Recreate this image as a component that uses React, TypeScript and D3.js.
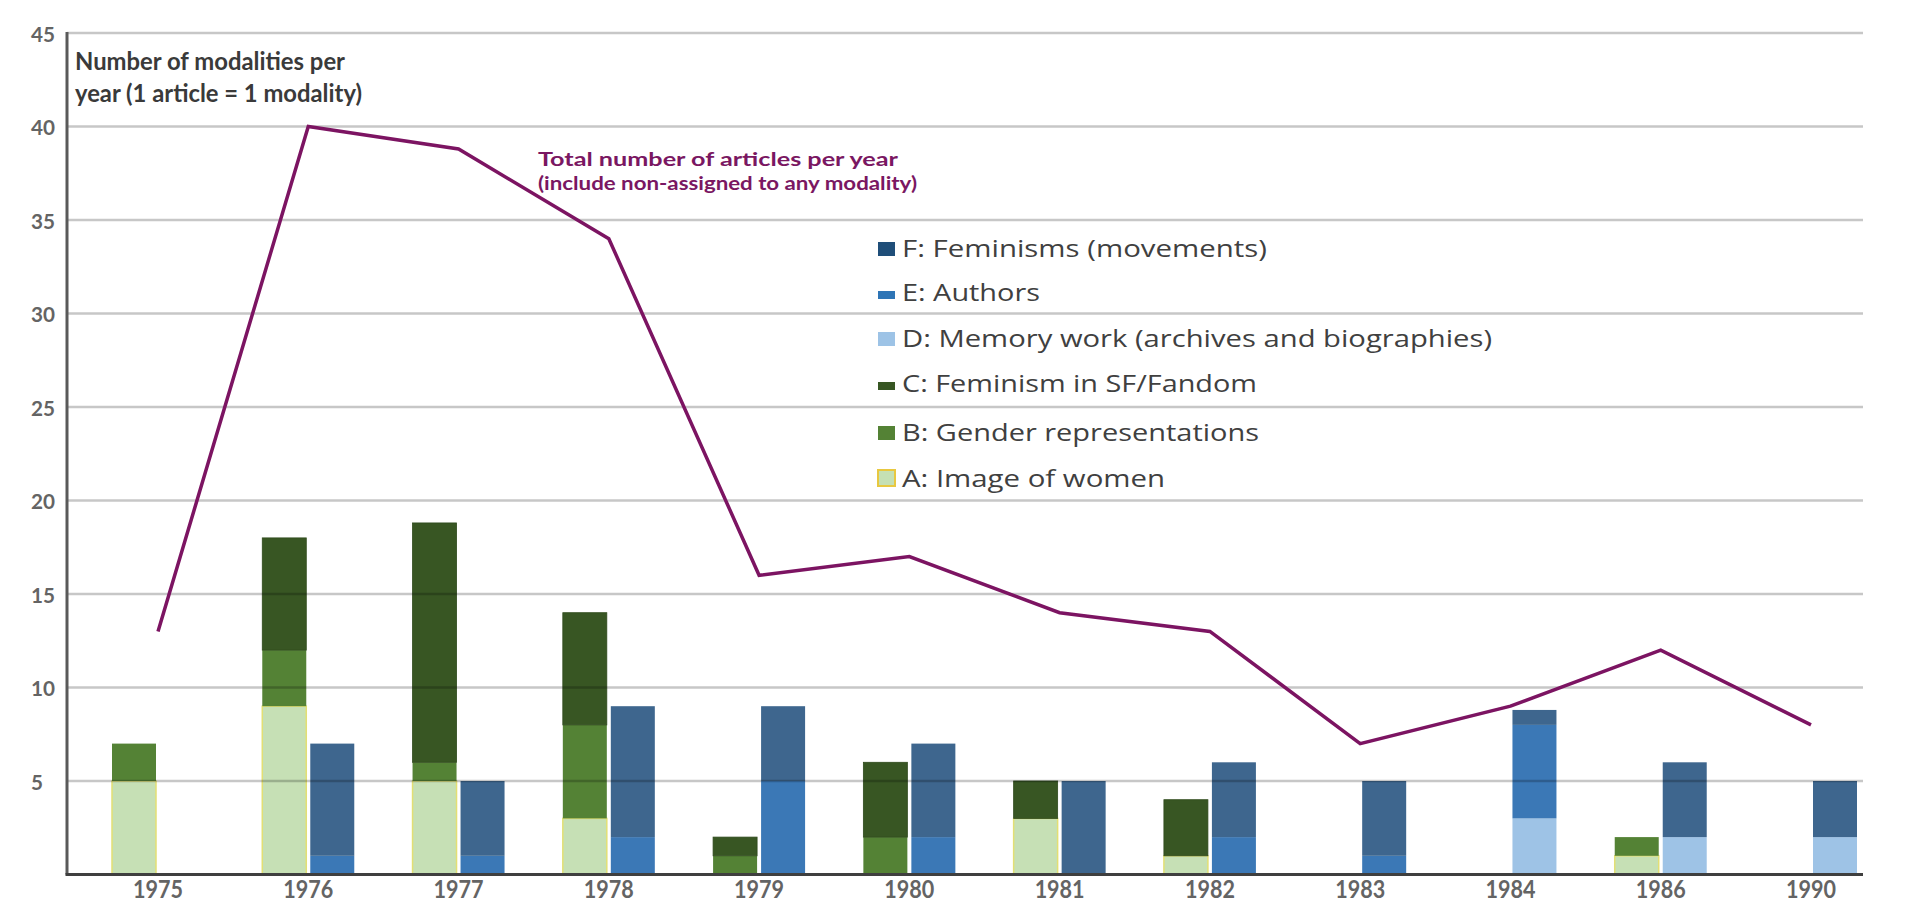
import React from "react";
import * as d3 from "d3";

const years = ["1975", "1976", "1977", "1978", "1979", "1980", "1981", "1982", "1983", "1984", "1986", "1990"];
// Left stack (green family)
const seriesA = [5, 9, 5, 3, 0, 0, 3, 1, 0, 0, 1, 0];
const seriesB = [2, 3, 1, 5, 1, 2, 0, 0, 0, 0, 1, 0];
const seriesC = [0, 6, 12.8, 6, 1, 4, 2, 3, 0, 0, 0, 0];
// Right stack (blue family)
const seriesD = [0, 0, 0, 0, 0, 0, 0, 0, 0, 3, 2, 2];
const seriesE = [0, 1, 1, 2, 5, 2, 0, 2, 1, 5, 0, 0];
const seriesF = [0, 6, 4, 7, 4, 5, 5, 4, 4, 0.8, 4, 3];
// Total number of articles per year (line)
const totalArticles = [13, 40, 38.8, 34, 16, 17, 14, 13, 7, 9, 12, 8];
const yTicks = [5, 10, 15, 20, 25, 30, 35, 40, 45];

const seriesLabels: Record<string, string> = {
  F: "F: Feminisms (movements)",
  E: "E: Authors",
  D: "D: Memory work (archives and biographies)",
  C: "C: Feminism in SF/Fandom",
  B: "B: Gender representations",
  A: "A: Image of women",
};
const legendOrder = ["F", "E", "D", "C", "B", "A"];

const fillColors: Record<string, string> = {
  A: "#c6e0b5",
  B: "#548235",
  C: "#385623",
  D: "#9ec3e6",
  E: "#3b78b6",
  F: "#3e668e",
};
const swatchColors: Record<string, string> = {
  A: "#c5e0b4",
  B: "#548235",
  C: "#375623",
  D: "#9dc3e6",
  E: "#2e75b6",
  F: "#1f4e79",
};

export default function App() {
  const W = 1917;
  const H = 905;
  const axisX = 67;
  const plotRight = 1863;

  const x = d3.scalePoint<string>().domain(years).range([158, 1811]);
  const y = d3.scaleLinear().domain([0, 45]).range([874.5, 33]);

  const rows = years.map((yr, i) => ({
    year: yr,
    A: seriesA[i],
    B: seriesB[i],
    C: seriesC[i],
    D: seriesD[i],
    E: seriesE[i],
    F: seriesF[i],
  }));
  const leftStack = d3.stack<any>().keys(["A", "B", "C"])(rows);
  const rightStack = d3.stack<any>().keys(["D", "E", "F"])(rows);

  const barW = 44;
  const lineGen = d3
    .line<number>()
    .x((_, i) => x(years[i]) as number)
    .y((d) => y(d));

  const legendRows = [248, 292, 338, 383, 432, 478];
  const legendSwatch: Record<string, [number, number]> = {
    F: [-6, 14],
    E: [-1, 8],
    D: [-6, 14],
    C: [-1, 8],
    B: [-6, 14],
    A: [-8, 16],
  };
  const legendTextLen: Record<string, number> = {
    F: 365,
    E: 138,
    D: 590,
    C: 355,
    B: 357,
    A: 263,
  };

  const renderStack = (stack: any[], side: "left" | "right") =>
    stack.map((layer) =>
      layer.map((seg: any, i: number) => {
        const v = seg[1] - seg[0];
        if (v <= 0) return null;
        const cx = x(years[i]) as number;
        const bx = side === "left" ? cx - 46 : cx + 2;
        const key = layer.key as string;
        return (
          <rect
            key={`${side}-${key}-${i}`}
            x={bx}
            y={y(seg[1])}
            width={barW}
            height={y(seg[0]) - y(seg[1])}
            fill={fillColors[key]}
            stroke={key === "A" ? "#e3df74" : key === "C" ? "#2f4a1c" : "none"}
            strokeWidth={key === "A" ? 1.5 : 0.8}
          />
        );
      })
    );

  return (
    <svg
      width={W}
      height={H}
      style={{ position: "absolute", left: 0, top: 0, background: "#fff" }}
      fontFamily="Lato, 'Open Sans', sans-serif"
    >
      <rect x={0} y={0} width={W} height={H} fill="#ffffff" />

      {/* bars */}
      <g>{renderStack(leftStack, "left")}</g>
      <g>{renderStack(rightStack, "right")}</g>

      {/* gridlines (overlay, show through bars) */}
      <g>
        {yTicks.map((t) => (
          <line
            key={`g${t}`}
            x1={axisX}
            x2={plotRight}
            y1={y(t)}
            y2={y(t)}
            stroke="#000"
            strokeOpacity={0.22}
            strokeWidth={2.5}
          />
        ))}
      </g>

      {/* axes */}
      <line x1={axisX} x2={axisX} y1={y(45) - 1} y2={y(0)} stroke="#5a5a5a" strokeWidth={3} />
      <line x1={axisX - 1.5} x2={plotRight} y1={y(0)} y2={y(0)} stroke="#3f3f3f" strokeWidth={3} />

      {/* y tick labels */}
      <g>
        {yTicks.map((t) => (
          <text
            key={`t${t}`}
            x={31}
            y={y(t)}
            dominantBaseline="central"
            fontSize={21}
            fontWeight={700}
            fill="#646464"
            textLength={t < 10 ? 12 : 24}
            lengthAdjust="spacingAndGlyphs"
          >
            {t}
          </text>
        ))}
      </g>

      {/* x labels */}
      <g>
        {years.map((yr) => (
          <text
            key={`x${yr}`}
            x={(x(yr) as number) - 25}
            y={898}
            fontSize={25}
            fontWeight={700}
            fill="#646464"
            textLength={50}
            lengthAdjust="spacingAndGlyphs"
          >
            {yr}
          </text>
        ))}
      </g>

      {/* total line */}
      <path
        d={lineGen(totalArticles) as string}
        fill="none"
        stroke="#7c1462"
        strokeWidth={3.5}
        strokeLinejoin="miter"
      />

      {/* title */}
      <text x={75} y={70} fontSize={24} fontWeight={700} fill="#3a3a3a" textLength={270} lengthAdjust="spacingAndGlyphs">
        Number of modalities per
      </text>
      <text x={75} y={102} fontSize={24} fontWeight={700} fill="#3a3a3a" textLength={287} lengthAdjust="spacingAndGlyphs">
        year (1 article = 1 modality)
      </text>

      {/* line annotation */}
      <text x={538} y={166} fontSize={19} fontWeight={700} fill="#7a1762" textLength={360} lengthAdjust="spacingAndGlyphs">
        Total number of articles per year
      </text>
      <text x={538} y={190} fontSize={19} fontWeight={700} fill="#7a1762" textLength={379} lengthAdjust="spacingAndGlyphs">
        (include non-assigned to any modality)
      </text>

      {/* legend */}
      <g fontFamily="'Open Sans', Lato, sans-serif">
        {legendOrder.map((k, i) => {
          const cy = legendRows[i];
          const [dy, h] = legendSwatch[k];
          return (
            <g key={`l${k}`}>
              <rect
                x={878}
                y={cy + dy}
                width={17}
                height={h}
                fill={swatchColors[k]}
                stroke={k === "A" ? "#e8c840" : "none"}
                strokeWidth={k === "A" ? 2 : 0}
              />
              <text
                x={902}
                y={cy}
                dominantBaseline="central"
                fontSize={23}
                fill="#404040"
                textLength={legendTextLen[k]}
                lengthAdjust="spacingAndGlyphs"
              >
                {seriesLabels[k]}
              </text>
            </g>
          );
        })}
      </g>
    </svg>
  );
}
